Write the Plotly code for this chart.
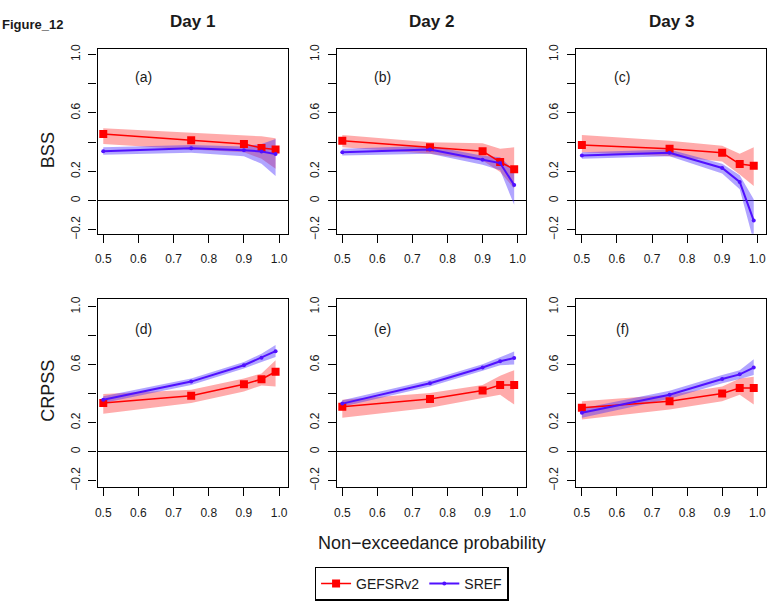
import plotly.graph_objects as go

# Non-exceedance probabilities (x values shared by every panel)
prob = [0.5, 0.75, 0.9, 0.95, 0.99]

days = ["Day 1", "Day 2", "Day 3"]
panel_tags = ["(a)", "(b)", "(c)", "(d)", "(e)", "(f)"]
x_ticks = [0.5, 0.6, 0.7, 0.8, 0.9, 1.0]
x_tick_text = ["0.5", "0.6", "0.7", "0.8", "0.9", "1.0"]
y_ticks = [-0.2, 0.0, 0.2, 0.4, 0.6, 0.8, 1.0]
y_tick_text = ["\u22120.2", "0", "0.2", "", "0.6", "", "1.0"]

# ---- BSS: GEFSRv2 (mean, lower, upper) ----
bss_gefs_d1 = [0.455, 0.412, 0.387, 0.360, 0.349]
bss_gefs_d1_lo = [0.387, 0.350, 0.331, 0.286, 0.218]
bss_gefs_d1_hi = [0.495, 0.466, 0.448, 0.440, 0.426]
bss_gefs_d2 = [0.410, 0.365, 0.338, 0.264, 0.214]
bss_gefs_d2_lo = [0.365, 0.320, 0.275, 0.196, 0.083]
bss_gefs_d2_hi = [0.448, 0.399, 0.392, 0.354, 0.365]
bss_gefs_d3 = [0.381, 0.354, 0.327, 0.250, 0.239]
bss_gefs_d3_lo = [0.331, 0.304, 0.268, 0.178, 0.099]
bss_gefs_d3_hi = [0.448, 0.410, 0.376, 0.320, 0.365]

# ---- BSS: SREF ----
bss_sref_d1 = [0.338, 0.358, 0.345, 0.336, 0.318]
bss_sref_d1_lo = [0.313, 0.327, 0.304, 0.252, 0.169]
bss_sref_d1_hi = [0.365, 0.380, 0.370, 0.387, 0.421]
bss_sref_d2 = [0.331, 0.349, 0.279, 0.257, 0.106]
bss_sref_d2_lo = [0.309, 0.320, 0.245, 0.207, -0.029]
bss_sref_d2_hi = [0.354, 0.376, 0.307, 0.297, 0.207]
bss_sref_d3 = [0.309, 0.327, 0.223, 0.128, -0.137]
bss_sref_d3_lo = [0.286, 0.304, 0.185, 0.077, -0.280]
bss_sref_d3_hi = [0.331, 0.349, 0.252, 0.173, 0.010]

# ---- CRPSS: GEFSRv2 ----
crpss_gefs_d1 = [0.337, 0.386, 0.466, 0.500, 0.552]
crpss_gefs_d1_lo = [0.262, 0.337, 0.416, 0.457, 0.450]
crpss_gefs_d1_hi = [0.398, 0.427, 0.506, 0.540, 0.631]
crpss_gefs_d2 = [0.310, 0.364, 0.423, 0.461, 0.461]
crpss_gefs_d2_lo = [0.235, 0.303, 0.371, 0.393, 0.325]
crpss_gefs_d2_hi = [0.359, 0.405, 0.461, 0.525, 0.563]
crpss_gefs_d3 = [0.303, 0.348, 0.402, 0.439, 0.439]
crpss_gefs_d3_lo = [0.223, 0.291, 0.348, 0.393, 0.325]
crpss_gefs_d3_hi = [0.348, 0.393, 0.450, 0.506, 0.518]

# ---- CRPSS: SREF ----
crpss_sref_d1 = [0.359, 0.484, 0.597, 0.649, 0.694]
crpss_sref_d1_lo = [0.337, 0.461, 0.574, 0.620, 0.654]
crpss_sref_d1_hi = [0.382, 0.506, 0.620, 0.676, 0.737]
crpss_sref_d2 = [0.332, 0.472, 0.581, 0.624, 0.647]
crpss_sref_d2_lo = [0.310, 0.450, 0.559, 0.597, 0.602]
crpss_sref_d2_hi = [0.355, 0.495, 0.604, 0.654, 0.692]
crpss_sref_d3 = [0.269, 0.393, 0.502, 0.534, 0.581]
crpss_sref_d3_lo = [0.235, 0.366, 0.472, 0.502, 0.529]
crpss_sref_d3_hi = [0.298, 0.420, 0.529, 0.563, 0.638]

panels = [
    (bss_gefs_d1, bss_gefs_d1_lo, bss_gefs_d1_hi, bss_sref_d1, bss_sref_d1_lo, bss_sref_d1_hi),
    (bss_gefs_d2, bss_gefs_d2_lo, bss_gefs_d2_hi, bss_sref_d2, bss_sref_d2_lo, bss_sref_d2_hi),
    (bss_gefs_d3, bss_gefs_d3_lo, bss_gefs_d3_hi, bss_sref_d3, bss_sref_d3_lo, bss_sref_d3_hi),
    (crpss_gefs_d1, crpss_gefs_d1_lo, crpss_gefs_d1_hi, crpss_sref_d1, crpss_sref_d1_lo, crpss_sref_d1_hi),
    (crpss_gefs_d2, crpss_gefs_d2_lo, crpss_gefs_d2_hi, crpss_sref_d2, crpss_sref_d2_lo, crpss_sref_d2_hi),
    (crpss_gefs_d3, crpss_gefs_d3_lo, crpss_gefs_d3_hi, crpss_sref_d3, crpss_sref_d3_lo, crpss_sref_d3_hi),
]

W, H = 770, 605
FONT = "Liberation Sans, Arial, sans-serif"
INK = "#1a1a1a"
RED = "#ff0000"
BLUE = "#5010ff"
RED_BAND = "rgba(255,0,0,0.33)"
BLUE_BAND = "rgba(70,40,255,0.42)"

# subplot boxes in pixels: (left, right) per column, (top, bottom) per row
col_px = [(95, 286), (335, 525.5), (575.5, 766)]
row_px = [(45, 233), (299, 491)]
row_yrange = [[-0.227, 1.036], [-0.244, 1.057]]
x_range = [0.484, 1.025]

fig = go.Figure()
layout = {}

for i, (g, glo, ghi, s, slo, shi) in enumerate(panels):
    r, c = divmod(i, 3)
    n = i + 1
    xa = "x" if n == 1 else f"x{n}"
    ya = "y" if n == 1 else f"y{n}"
    first = i == 0

    # confidence bands
    fig.add_trace(go.Scatter(
        x=prob + prob[::-1], y=ghi + glo[::-1], fill="toself",
        fillcolor=RED_BAND, line=dict(width=0), mode="lines",
        hoverinfo="skip", showlegend=False, xaxis=xa, yaxis=ya))
    fig.add_trace(go.Scatter(
        x=prob + prob[::-1], y=shi + slo[::-1], fill="toself",
        fillcolor=BLUE_BAND, line=dict(width=0), mode="lines",
        hoverinfo="skip", showlegend=False, xaxis=xa, yaxis=ya))
    # mean curves
    fig.add_trace(go.Scatter(
        x=prob, y=g, mode="lines+markers", name="GEFSRv2",
        line=dict(color=RED, width=1.5),
        marker=dict(symbol="square", size=8, color=RED),
        showlegend=first, legendrank=1, xaxis=xa, yaxis=ya))
    fig.add_trace(go.Scatter(
        x=prob, y=s, mode="lines+markers", name="SREF",
        line=dict(color=BLUE, width=2),
        marker=dict(symbol="circle", size=4, color=BLUE),
        showlegend=first, legendrank=2, xaxis=xa, yaxis=ya))

    x0, x1 = col_px[c]
    y0, y1 = row_px[r]
    axis_common = dict(
        showline=True, linecolor="black", linewidth=1.3, mirror=True,
        ticks="outside", ticklen=8, tickwidth=1.2, tickcolor="black",
        showgrid=False,
        tickfont=dict(family=FONT, size=12, color=INK),
    )
    layout["xaxis" if n == 1 else f"xaxis{n}"] = dict(
        axis_common, domain=[x0 / W, x1 / W], range=x_range,
        tickvals=x_ticks, ticktext=x_tick_text, anchor=ya,
        zeroline=False, ticklabelstandoff=6,
    )
    layout["yaxis" if n == 1 else f"yaxis{n}"] = dict(
        axis_common, domain=[1 - y1 / H, 1 - y0 / H], range=row_yrange[r],
        tickvals=y_ticks, ticktext=y_tick_text, tickangle=-90, anchor=xa,
        zeroline=True, zerolinecolor="black", zerolinewidth=1.3,
        ticklabelstandoff=4,
    )

annotations = []
# panel tags
for i, tag in enumerate(panel_tags):
    n = i + 1
    annotations.append(dict(
        text=tag, x=0.615, y=0.848,
        xref="x" if n == 1 else f"x{n}", yref="y" if n == 1 else f"y{n}",
        showarrow=False, font=dict(family=FONT, size=14, color=INK)))
# column titles
for c, day in enumerate(days):
    x0, x1 = col_px[c]
    annotations.append(dict(
        text=f"<b>{day}</b>", x=(x0 + x1) / 2 / W, y=1 - 17 / H,
        xref="paper", yref="paper", showarrow=False,
        xanchor="center", yanchor="middle",
        font=dict(family=FONT, size=17, color=INK)))
# row titles
for label, ypx in [("BSS", 148), ("CRPSS", 393)]:
    annotations.append(dict(
        text=label, x=45 / W, y=1 - ypx / H, xref="paper", yref="paper",
        showarrow=False, textangle=-90, xanchor="center", yanchor="middle",
        font=dict(family=FONT, size=18, color=INK)))
# shared x-axis title
annotations.append(dict(
    text="Non\u2212exceedance probability", x=430.5 / W, y=1 - 548 / H,
    xref="paper", yref="paper", showarrow=False,
    xanchor="center", yanchor="middle",
    font=dict(family=FONT, size=18, color=INK)))
# figure label at the top-left corner
annotations.append(dict(
    text="<b>Figure_12</b>", x=62 / W, y=1 - 20 / H,
    xref="paper", yref="paper", showarrow=False,
    xanchor="right", yanchor="middle",
    font=dict(family=FONT, size=13, color=INK)))

fig.update_layout(
    **layout,
    annotations=annotations,
    width=W, height=H,
    margin=dict(l=0, r=0, t=0, b=0),
    paper_bgcolor="white", plot_bgcolor="white",
    showlegend=True,
    legend=dict(
        orientation="h", x=313 / W, xanchor="left",
        y=1 - 572 / H, yanchor="top",
        bordercolor="black", borderwidth=1.3, bgcolor="white",
        font=dict(family=FONT, size=14, color=INK),
        itemwidth=30, tracegroupgap=0,
    ),
)

fig.write_html("out.html")
